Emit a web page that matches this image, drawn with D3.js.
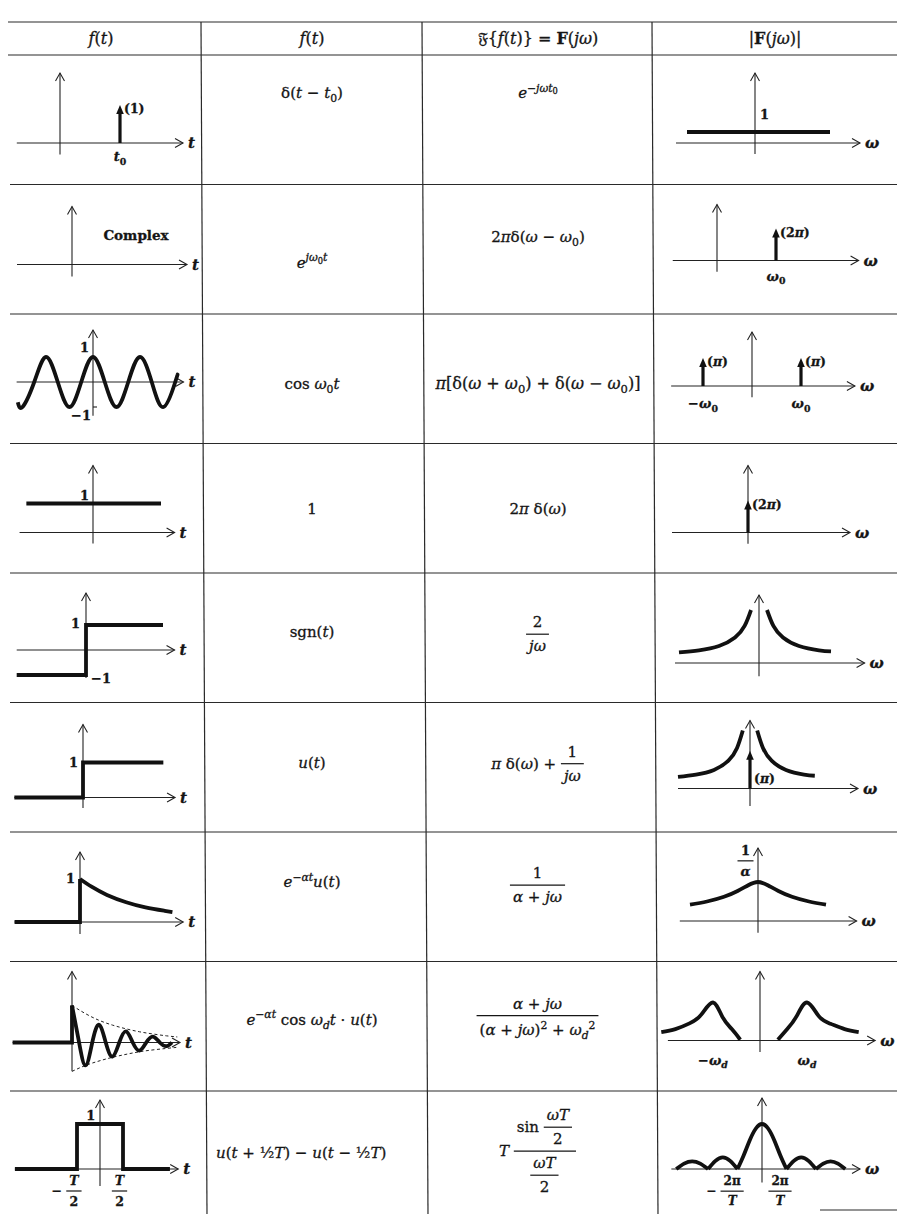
<!DOCTYPE html>
<html><head><meta charset="utf-8">
<script src="https://cdn.jsdelivr.net/npm/d3@7/dist/d3.min.js"></script>
<style>
html,body{margin:0;padding:0;background:#fff}
svg{display:block}
text{font-family:"DejaVu Serif","Liberation Serif",serif;fill:#151515;stroke:#151515;stroke-width:0.3;white-space:pre}
.ax{stroke:#222;stroke-width:1.1;fill:none}
.grid{stroke:#2a2a2a;stroke-width:1.2}
.thick{stroke:#111;stroke-width:3.8;fill:none;stroke-linejoin:miter;stroke-linecap:butt}
.dash{stroke:#222;stroke-width:1;fill:none;stroke-dasharray:3,2.5}
</style></head><body>
<svg id="chart" width="897" height="1214"></svg>
<script>
// ---------------- data ----------------
const headers = [
  [[["f","i"],["(","r"],["t","i"],[")","r"]]],
  [[["f","i"],["(","r"],["t","i"],[")","r"]]],
  [[["𝔉","r"],["{","r"],["f","i"],["(","r"],["t","i"],[")} = ","r"],["F","b"],["(","r"],["jω","i"],[")","r"]]],
  [[["|","r"],["F","b"],["(","r"],["jω","i"],[")|","r"]]]
];
const timeFunctions = [
  [[["δ(","r"],["t","i"],[" − ","r"],["t","i"],["0","_r"],[")","r"]]],
  [[["e","i"],["jω","^i"],["0","^_r"],["t","^i"]]],
  [[["cos ","r"],["ω","i"],["0","_r"],["t","i"]]],
  [[["1","r"]]],
  [[["sgn(","r"],["t","i"],[")","r"]]],
  [[["u","i"],["(","r"],["t","i"],[")","r"]]],
  [[["e","i"],["−αt","^i"],["u","i"],["(","r"],["t","i"],[")","r"]]],
  [[["e","i"],["−αt","^i"],[" cos ","r"],["ω","i"],["d","_i"],["t","i"],[" · ","r"],["u","i"],["(","r"],["t","i"],[")","r"]]],
  [[["u","i"],["(","r"],["t","i"],[" + ½","r"],["T","i"],[") − ","r"],["u","i"],["(","r"],["t","i"],[" − ½","r"],["T","i"],[")","r"]]]
];
const transforms = [
  [[["e","i"],["−jωt","^i"],["0","^_r"]]],
  [[["2","r"],["π","i"],["δ(","r"],["ω","i"],[" − ","r"],["ω","i"],["0","_r"],[")","r"]]],
  [[["π","i"],["[δ(","r"],["ω","i"],[" + ","r"],["ω","i"],["0","_r"],[") + δ(","r"],["ω","i"],[" − ","r"],["ω","i"],["0","_r"],[")]","r"]]],
  [[["2","r"],["π","i"],[" δ(","r"],["ω","i"],[")","r"]]],
  [{frac:[[[["2","r"]]],[[["jω","i"]]]]}],
  [[["π","i"],[" δ(","r"],["ω","i"],[") + ","r"]],{frac:[[[["1","r"]]],[[["jω","i"]]]]}],
  [{frac:[[[["1","r"]]],[[["α","i"],[" + ","r"],["jω","i"]]]]}],
  [{frac:[[[["α","i"],[" + ","r"],["jω","i"]]],[[["(","r"],["α","i"],[" + ","r"],["jω","i"],[")","r"],["2","^r"],[" + ","r"],["ω","i"],["d","_i"],["2","^r"]]]]}],
  [[["T","i"],[" ","r"]],{frac:[[[["sin ","r"]],{frac:[[[["ωT","i"]]],[[["2","r"]]]]}],[{frac:[[[["ωT","i"]]],[[["2","r"]]]]}]]}]
];
// impulses (position, weight, label)
const deltaShifted = [{at:1, weight:1, label:"(1)"}];
const complexSpectrum = [{at:1, weight:1, label:"(2π)"}];
const cosSpectrum = [{at:-1, weight:1, label:"(π)"},{at:1, weight:1, label:"(π)"}];
const constSpectrum = [{at:0, weight:1, label:"(2π)"}];
const stepSpectrumImpulse = [{at:0, weight:0.65, label:"(π)"}];
// curves (t or ω, value)
const flatMagnitude = [[-1.36,1],[1.5,1]];
const constantLevel = [[-0.98,1],[1.0,1]];
const cosWave = [[-3.2,-0.81],[-3,-1],[-2.5,0],[-2,1],[-1.5,0],[-1,-1],[-0.5,0],[0,1],[0.5,0],[1,-1],[1.5,0],[2,1],[2.5,0],[3,-1],[3.5,0],[3.6,0.3]];
const signumSteps = [[-0.9,-1],[0,-1],[0,1],[1,1]];
const unitStep = [[-0.88,0],[0,0],[0,1],[1.03,1]];
const invMagLeft = [[-1,0.2],[-0.75,0.24],[-0.5,0.32],[-0.3,0.48],[-0.18,0.7],[-0.1,1]];
const invMagRight = [[0.1,1],[0.18,0.7],[0.3,0.48],[0.5,0.32],[0.75,0.24],[0.9,0.22]];
const expJump = [[-0.85,0],[0,0],[0,1]];
const expTail = [[0,1],[0.15,0.82],[0.35,0.63],[0.6,0.46],[0.85,0.34],[1.1,0.26],[1.2,0.23]];
const lorentzMag = [[-1,0.42],[-0.75,0.5],[-0.5,0.62],[-0.3,0.77],[-0.15,0.91],[0,1],[0.15,0.91],[0.3,0.77],[0.5,0.62],[0.75,0.5],[1,0.42]];
const dampedJump = [[-2.2,0],[0,0],[0,1]];
const dampedWave = [[0,1],[0.25,0.05],[0.5,-0.62],[0.75,0],[1,0.48],[1.25,0],[1.5,-0.38],[1.75,0],[2,0.3],[2.25,0],[2.5,-0.22],[2.75,0],[3,0.16],[3.25,0],[3.5,-0.1],[3.7,0]];
const envelopeUpper = [[0,1],[0.5,0.78],[1,0.6],[1.5,0.47],[2,0.37],[2.5,0.29],[3,0.23],[3.5,0.18],[3.9,0.15]];
const envelopeLower = [[0,-0.78],[0.5,-0.62],[1,-0.5],[1.5,-0.4],[2,-0.32],[2.5,-0.25],[3,-0.2],[3.5,-0.16],[3.9,-0.13]];
const resonanceLeft = [[-2.1,0.22],[-1.8,0.3],[-1.5,0.45],[-1.25,0.68],[-1,1],[-0.8,0.62],[-0.6,0.3],[-0.42,0.02]];
const resonanceRight = [[0.38,0.02],[0.58,0.3],[0.78,0.64],[1,1],[1.25,0.64],[1.5,0.44],[1.8,0.3],[2.1,0.22]];
const rectPulse = [[-1.85,0],[-0.5,0],[-0.5,1],[0.5,1],[0.5,0],[1.52,0]];
const sincLobes = [
  [[-3.5,0],[-3.18,0.12],[-2.85,0.17],[-2.52,0.12],[-2.2,0]],
  [[-2.2,0],[-1.9,0.18],[-1.6,0.26],[-1.3,0.18],[-1,0]],
  [[-1,0],[-0.75,0.3],[-0.5,0.64],[-0.25,0.9],[0,1],[0.25,0.9],[0.5,0.64],[0.75,0.3],[1,0]],
  [[1,0],[1.3,0.18],[1.6,0.26],[1.9,0.18],[2.2,0]],
  [[2.2,0],[2.5,0.12],[2.8,0.17],[3.1,0.12],[3.4,0]]
];

// ---------------- layout ----------------
const svg = d3.select("#chart");
const colEdges = [10, 201, 422, 652, 897];
const colCenter = [101, 312, 538, 775];
const headerTop = 22, headerBottom = 55, rowH = 129.5;
const rt = i => headerBottom + rowH * i;

function richText(g, x, y, pieces, size, anchor) {
  const t = g.append("text").attr("x", x).attr("y", y).attr("font-size", size).attr("text-anchor", anchor || "start");
  let shift = 0;
  for (const [s, st] of pieces) {
    let pos = "", sty = st;
    if (st.startsWith("^_")) { pos = "^_"; sty = st.slice(2); }
    else if (st[0] === "^" || st[0] === "_") { pos = st[0]; sty = st.slice(1); }
    let target = 0, fs = size;
    if (pos === "_") { target = size * 0.28; fs = size * 0.72; }
    if (pos === "^") { target = -size * 0.42; fs = size * 0.72; }
    if (pos === "^_") { target = -size * 0.26; fs = size * 0.55; }
    t.append("tspan").text(s).attr("font-size", fs).attr("dy", target - shift)
      .attr("font-style", sty.includes("i") ? "italic" : "normal")
      .attr("font-weight", sty.includes("b") ? "bold" : "normal");
    shift = target;
  }
  return t;
}
function layout(g, items, size) {
  let x = 0, asc = 0, desc = 0;
  items.forEach(it => {
    if (it.frac) {
      const fg = g.append("g");
      const ng = fg.append("g"), dg = fg.append("g");
      const n = layout(ng, it.frac[0], size), d = layout(dg, it.frac[1], size);
      const w = Math.max(n.width, d.width) + 6;
      const axis = -size * 0.32, gap = 3;
      ng.attr("transform", `translate(${x + (w - n.width) / 2},${axis - gap - n.desc})`);
      dg.attr("transform", `translate(${x + (w - d.width) / 2},${axis + gap + d.asc})`);
      fg.append("line").attr("x1", x).attr("x2", x + w).attr("y1", axis).attr("y2", axis)
        .attr("stroke", "#151515").attr("stroke-width", 1.2);
      asc = Math.max(asc, -(axis - gap - n.desc - n.asc));
      desc = Math.max(desc, axis + gap + d.asc + d.desc);
      x += w + 1;
    } else {
      const t = richText(g, x, 0, it, size, "start");
      const b = t.node().getBBox();
      asc = Math.max(asc, -b.y); desc = Math.max(desc, b.y + b.height);
      x += t.node().getComputedTextLength();
    }
  });
  return {width: x, asc, desc};
}
function place(items, x, y, size, anchor) {
  const g = svg.append("g");
  const r = layout(g, items, size);
  const dx = anchor === "middle" ? x - r.width / 2 : anchor === "end" ? x - r.width : x;
  g.attr("transform", `translate(${dx},${y})`);
  return g;
}

// ---- table grid ----
svg.append("line").attr("class","grid").attr("x1",8).attr("x2",897).attr("y1",headerTop).attr("y2",headerTop).attr("stroke-width",1.6);
svg.append("line").attr("class","grid").attr("x1",8).attr("x2",897).attr("y1",headerBottom).attr("y2",headerBottom).attr("stroke-width",1.5);
for (let i = 1; i < 9; i++) svg.append("line").attr("class","grid").attr("x1",10).attr("x2",897).attr("y1",rt(i)).attr("y2",rt(i));
[1,2,3].forEach(c => svg.append("line").attr("class","grid").attr("x1",colEdges[c]).attr("x2",colEdges[c] + 6).attr("y1",headerTop).attr("y2",1214));
svg.append("line").attr("class","grid").attr("x1",820).attr("x2",897).attr("y1",1210).attr("y2",1210);

// ---- header ----
headers.forEach((h, c) => place(h, colCenter[c], 44, 16, "middle"));

// ---- formulas (baseline offsets inside each row) ----
const timeY = [43, 83, 75, 70, 64, 65, 55, 63, 67];
const transY = [43, 57, 75, 70, 66, 66, 58, 59, 65];
timeFunctions.forEach((f, i) => {
  if (i === 8) place(f, 216, rt(i) + timeY[i], 15, "start");
  else place(f, colCenter[1], rt(i) + timeY[i], 15, "middle");
});
transforms.forEach((f, i) => place(f, colCenter[2], rt(i) + transY[i], i === 2 ? 16 : 15, "middle"));

// ---- mini plots ----
function hAxis(g, x1, x2, y) {
  g.append("line").attr("class","ax").attr("x1",x1).attr("x2",x2).attr("y1",y).attr("y2",y);
  g.append("path").attr("class","ax").attr("d",`M${x2-8},${y-4.5}L${x2},${y}L${x2-8},${y+4.5}`);
}
function vAxis(g, x, yTop, yBot) {
  g.append("line").attr("class","ax").attr("x1",x).attr("x2",x).attr("y1",yTop).attr("y2",yBot);
  g.append("path").attr("class","ax").attr("d",`M${x-4.5},${yTop+8}L${x},${yTop}L${x+4.5},${yTop+8}`);
}
function plot(spec) {
  const g = svg.append("g");
  const sx = d3.scaleLinear().domain([0,1]).range([spec.ox, spec.ox + spec.ux]);
  const sy = d3.scaleLinear().domain([0,1]).range([spec.oy, spec.oy - spec.uy]);
  hAxis(g, sx(spec.xa[0]), sx(spec.xa[1]), sy(0));
  const yTop = spec.tip !== undefined ? spec.tip : sy(spec.ya[1]);
  vAxis(g, sx(0), yTop, sy(spec.ya[0]));
  richText(g, sx(spec.xa[1]) + 5, sy(0) + 5, [[spec.label, "bi"]], 15, "start");
  const line = (pts, curve, cls) => g.append("path")
    .attr("d", d3.line().x(d => sx(d[0])).y(d => sy(d[1])).curve(curve || d3.curveLinear)(pts))
    .attr("class", cls || "thick");
  const lbl = (pcs, x, y, anchor, size) => richText(g, x, y, pcs, size || 13, anchor || "middle");
  const impulses = (arr, withLabel) => arr.forEach(d => {
    const x = sx(d.at), y0 = sy(0), y1 = sy(d.weight);
    g.append("line").attr("x1",x).attr("x2",x).attr("y1",y0).attr("y2",y1 + 6).attr("stroke","#111").attr("stroke-width",3.2);
    g.append("path").attr("d",`M${x-3.8},${y1+9}L${x},${y1}L${x+3.8},${y1+9}Z`).attr("fill","#111");
    if (withLabel !== false) {
      const parts = d.label.split("π");
      const pcs = parts.length === 1 ? [[d.label, "b"]] : [[parts[0], "b"], ["π", "bi"], [parts[1], "b"]];
      lbl(pcs, x + 4, y1 + 8, "start", 12.5);
    }
  });
  return {g, sx, sy, line, impulses, lbl};
}
const bfrac = (a, b) => ({frac:[[a],[b]]});

// Row 1
{ const r = rt(0);
  const p = plot({ox:60, oy:r+88, ux:60, uy:38, xa:[-0.72,2.05], ya:[-0.3,0], tip:r+18, label:"t"});
  p.impulses(deltaShifted);
  p.lbl([["t","bi"],["0","_b"]], p.sx(1), p.sy(0)+18); }
{ const r = rt(0);
  const p = plot({ox:755, oy:r+88, ux:50, uy:11, xa:[-1.58,2.1], ya:[-1,0], tip:r+18, label:"ω"});
  p.line(flatMagnitude);
  p.lbl([["1","b"]], p.sx(0)+5, r+64, "start"); }
// Row 2
{ const r = rt(1);
  const p = plot({ox:72, oy:r+80, ux:50, uy:36, xa:[-1.1,2.3], ya:[-0.33,0], tip:r+22, label:"t"});
  p.lbl([["Complex","b"]], 136, r+55, "middle", 13.5); }
{ const r = rt(1);
  const p = plot({ox:717, oy:r+76, ux:59, uy:32, xa:[-0.75,2.4], ya:[-0.35,0], tip:r+20, label:"ω"});
  p.impulses(complexSpectrum);
  p.lbl([["ω","bi"],["0","_b"]], p.sx(1), p.sy(0)+20); }
// Row 3
{ const r = rt(2);
  const p = plot({ox:93, oy:r+68, ux:23.5, uy:25, xa:[-3.25,3.85], ya:[-1.35,0], tip:r+16, label:"t"});
  p.line(cosWave, d3.curveNatural);
  p.lbl([["1","b"]], p.sx(0)-4, p.sy(1)-5, "end");
  p.lbl([["−1","b"]], p.sx(0)-2, p.sy(-1)+13, "end");
  p.g.append("line").attr("class","ax").attr("x1",p.sx(0)).attr("x2",p.sx(0)+4).attr("y1",p.sy(-1)).attr("y2",p.sy(-1)); }
{ const r = rt(2);
  const p = plot({ox:752, oy:r+72, ux:49, uy:28, xa:[-1.65,2.1], ya:[-0.4,0], tip:r+18, label:"ω"});
  p.impulses(cosSpectrum);
  p.lbl([["−ω","bi"],["0","_b"]], p.sx(-1), p.sy(0)+22);
  p.lbl([["ω","bi"],["0","_b"]], p.sx(1), p.sy(0)+22); }
// Row 4
{ const r = rt(3);
  const p = plot({ox:93, oy:r+89, ux:68, uy:29, xa:[-1.08,1.2], ya:[-0.38,0], tip:r+22, label:"t"});
  p.line(constantLevel);
  p.lbl([["1","b"]], p.sx(0)-4, p.sy(1)-4, "end"); }
{ const r = rt(3);
  const p = plot({ox:748, oy:r+89, ux:50, uy:32, xa:[-1.52,2.04], ya:[-0.35,0], tip:r+22, label:"ω"});
  p.impulses(constSpectrum); }
// Row 5
{ const r = rt(4);
  const p = plot({ox:86, oy:r+77, ux:77, uy:25, xa:[-0.9,1.15], ya:[-1.12,0], tip:r+20, label:"t"});
  p.line(signumSteps);
  p.lbl([["1","b"]], p.sx(0)-6, p.sy(1)+3, "end");
  p.lbl([["−1","b"]], p.sx(0)+5, p.sy(-1)+8, "start"); }
{ const r = rt(4);
  const p = plot({ox:759, oy:r+90, ux:80, uy:53, xa:[-1.05,1.32], ya:[-0.25,0], tip:r+22, label:"ω"});
  p.line(invMagLeft, d3.curveNatural); p.line(invMagRight, d3.curveNatural); }
// Row 6
{ const r = rt(5);
  const p = plot({ox:83, oy:r+95, ux:78, uy:35, xa:[-0.88,1.18], ya:[-0.3,0], tip:r+22, label:"t"});
  p.line(unitStep);
  p.lbl([["1","b"]], p.sx(0)-5, p.sy(1)+4, "end"); }
{ const r = rt(5);
  const p = plot({ox:750, oy:r+86, ux:72, uy:58, xa:[-1,1.5], ya:[-0.3,0], tip:r+18, label:"ω"});
  p.line(invMagLeft, d3.curveNatural); p.line(invMagRight, d3.curveNatural);
  p.impulses(stepSpectrumImpulse, false);
  p.lbl([["(","b"],["π","bi"],[")","b"]], p.sx(0)+4, p.sy(0)-6, "start", 12.5); }
// Row 7
{ const r = rt(6);
  const p = plot({ox:80, oy:r+90, ux:77, uy:43, xa:[-0.85,1.34], ya:[-0.28,0], tip:r+20, label:"t"});
  p.line(expJump); p.line(expTail, d3.curveNatural);
  p.lbl([["1","b"]], p.sx(0)-5, p.sy(1)+4, "end"); }
{ const r = rt(6);
  const p = plot({ox:758, oy:r+89, ux:68, uy:39, xa:[-1.15,1.45], ya:[-0.3,0], tip:r+16, label:"ω"});
  p.line(lorentzMag, d3.curveNatural);
  place([bfrac([["1","b"]],[["α","bi"]])], p.sx(0)-12, r+33, 13, "middle"); }
// Row 8
{ const r = rt(7);
  const p = plot({ox:72, oy:r+81, ux:27, uy:37, xa:[-2.2,4.0], ya:[-0.78,0], tip:r+10, label:"t"});
  p.line(envelopeUpper, d3.curveNatural, "dash"); p.line(envelopeLower, d3.curveNatural, "dash");
  p.line(dampedJump); p.line(dampedWave, d3.curveNatural); }
{ const r = rt(7);
  const p = plot({ox:760, oy:r+79, ux:47, uy:38, xa:[-1.96,2.45], ya:[-0.3,0], tip:r+10, label:"ω"});
  p.line(resonanceLeft, d3.curveNatural); p.line(resonanceRight, d3.curveNatural);
  p.lbl([["−ω","bi"],["d","_bi"]], p.sx(-1), p.sy(0)+24);
  p.lbl([["ω","bi"],["d","_bi"]], p.sx(1), p.sy(0)+24); }
// Row 9
{ const r = rt(8);
  const p = plot({ox:100, oy:r+78, ux:46, uy:45, xa:[-1.85,1.7], ya:[-0.38,0], tip:r+9, label:"t"});
  p.line(rectPulse);
  p.lbl([["1","b"]], p.sx(-0.2), p.sy(1)-4, "middle");
  place([[["− ","b"]], bfrac([["T","bi"]],[["2","b"]])], p.sx(-0.5)-10, r+104, 12.5, "middle");
  place([bfrac([["T","bi"]],[["2","b"]])], p.sx(0.5)-3, r+104, 12.5, "middle"); }
{ const r = rt(8);
  const p = plot({ox:762, oy:r+78, ux:24.5, uy:45, xa:[-3.7,4.0], ya:[-0.3,0], tip:r+7, label:"ω"});
  sincLobes.forEach(l => p.line(l, d3.curveNatural));
  place([[["− ","b"]], bfrac([["2π","b"]],[["T","bi"]])], p.sx(-1)-12, r+104, 12, "middle");
  place([bfrac([["2π","b"]],[["T","bi"]])], p.sx(1)-6, r+104, 12, "middle"); }
</script></body></html>
